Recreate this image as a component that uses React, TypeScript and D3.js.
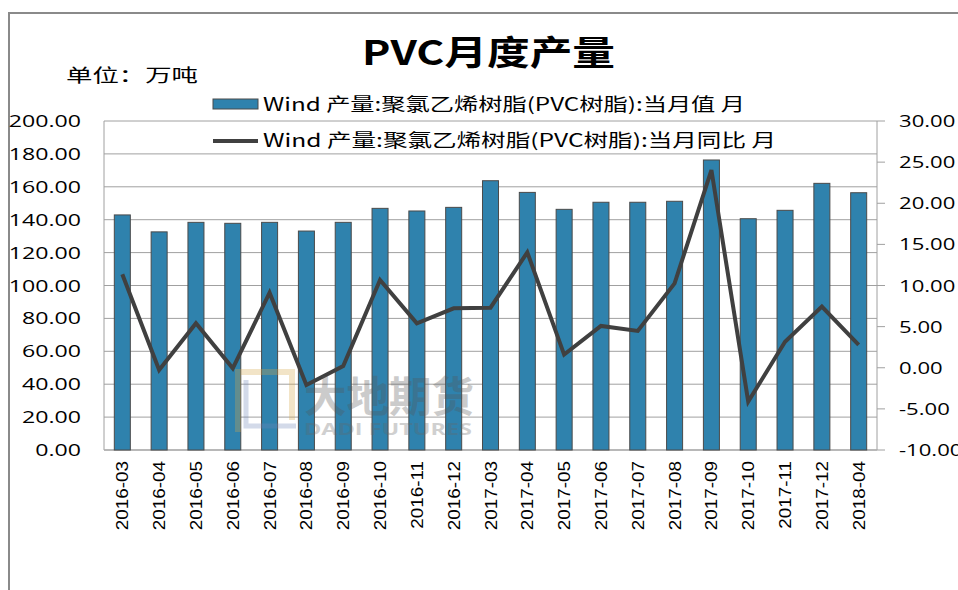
import { useEffect, useRef } from 'react'
import * as d3 from 'd3'

const months = [
  '2016-03', '2016-04', '2016-05', '2016-06', '2016-07', '2016-08', '2016-09',
  '2016-10', '2016-11', '2016-12', '2017-03', '2017-04', '2017-05', '2017-06',
  '2017-07', '2017-08', '2017-09', '2017-10', '2017-11', '2017-12', '2018-04',
]
const output = [
  142.9, 132.6, 138.4, 137.8, 138.4, 133.1, 138.4, 146.9, 145.3, 147.5, 163.7,
  156.6, 146.3, 150.6, 150.6, 151.2, 176.3, 140.6, 145.7, 162.1, 156.4,
]
const yoy = [
  11.36, -0.27, 5.41, -0.07, 9.13, -2.1, 0.21, 10.67, 5.41, 7.23, 7.3,
  14.03, 1.6, 5.08, 4.47, 10.26, 24.04, -4.12, 3.17, 7.43, 2.77,
]
const leftTicks = [0, 20, 40, 60, 80, 100, 120, 140, 160, 180, 200]
const rightTicks = [-10, -5, 0, 5, 10, 15, 20, 25, 30]
const legendNames = [
  'Wind 产量:聚氯乙烯树脂(PVC树脂):当月值 月',
  'Wind 产量:聚氯乙烯树脂(PVC树脂):当月同比 月',
]

const W = 958
const H = 590
const cjk = '"Noto Sans CJK SC", "Noto Sans", sans-serif'
const num = '"Open Sans", "DejaVu Sans", sans-serif'

export default function App() {
  const ref = useRef<SVGSVGElement>(null)

  useEffect(() => {
    if (!ref.current) return
    const svg = d3.select(ref.current)
    svg.selectAll('*').remove()

    const left = 104
    const right = 877
    const top = 121
    const bottom = 450

    const x = d3.scaleBand<string>().domain(months).range([left, right]).paddingInner(0.565).paddingOuter(0.28)
    const yL = d3.scaleLinear().domain([0, 200]).range([bottom, top])
    const yR = d3.scaleLinear().domain([-10, 30]).range([bottom, top])

    svg.append('rect').attr('width', W).attr('height', H).attr('fill', '#fff')

    // outer frame
    svg.append('path')
      .attr('d', `M9,${H} L9,13 L${W},13`)
      .attr('fill', 'none').attr('stroke', '#8a8a8a').attr('stroke-width', 2)

    // title
    svg.append('text').attr('x', 362).attr('y', 65)
      .attr('font-family', cjk).attr('font-size', 34).attr('font-weight', 'bold').attr('fill', '#000')
      .attr('textLength', 253).attr('lengthAdjust', 'spacingAndGlyphs')
      .text('PVC月度产量')
    svg.append('text').attr('x', 66).attr('y', 82)
      .attr('font-family', cjk).attr('font-size', 18).attr('fill', '#000')
      .attr('textLength', 132).attr('lengthAdjust', 'spacingAndGlyphs')
      .text('单位：万吨')

    // gridlines
    svg.append('g').selectAll('line').data(leftTicks).enter().append('line')
      .attr('x1', left).attr('x2', right)
      .attr('y1', d => yL(d)).attr('y2', d => yL(d))
      .attr('stroke', '#a0a0a0').attr('stroke-width', 1)

    // plot frame
    svg.append('line').attr('x1', left).attr('x2', left).attr('y1', top).attr('y2', bottom)
      .attr('stroke', '#a0a0a0')
    svg.append('line').attr('x1', right).attr('x2', right).attr('y1', top).attr('y2', bottom)
      .attr('stroke', '#a0a0a0')
    svg.append('line').attr('x1', left).attr('x2', right).attr('y1', bottom).attr('y2', bottom)
      .attr('stroke', '#b0b0b0').attr('stroke-width', 1.5)

    // right axis ticks
    svg.append('g').selectAll('line').data(rightTicks).enter().append('line')
      .attr('x1', right).attr('x2', right + 8)
      .attr('y1', d => yR(d)).attr('y2', d => yR(d))
      .attr('stroke', '#a0a0a0')

    // bars
    svg.append('g').selectAll('rect').data(months).enter().append('rect')
      .attr('x', d => x(d)!)
      .attr('width', x.bandwidth())
      .attr('y', (_, i) => yL(output[i]))
      .attr('height', (_, i) => bottom - yL(output[i]))
      .attr('fill', '#2f82ad')
      .attr('stroke', '#4a4a4a').attr('stroke-width', 1)

    // line
    const line = d3.line<number>()
      .x((_, i) => x(months[i])! + x.bandwidth() / 2)
      .y(d => yR(d))
    svg.append('path').datum(yoy).attr('d', line)
      .attr('fill', 'none').attr('stroke', '#404040').attr('stroke-width', 4)

    // watermark (faint, over the bars)
    const wm = svg.append('g').attr('opacity', 0.3)
    wm.append('path').attr('d', 'M238,432 L238,372 L292,372 L292,420')
      .attr('fill', 'none').attr('stroke', '#d7a84a').attr('stroke-width', 6)
    wm.append('path').attr('d', 'M246,380 L246,426 L296,426')
      .attr('fill', 'none').attr('stroke', '#6f86b8').attr('stroke-width', 5)
    wm.append('text').attr('x', 304).attr('y', 412).attr('font-family', cjk)
      .attr('font-size', 42).attr('font-weight', 'bold').attr('fill', '#555')
      .attr('textLength', 170).attr('lengthAdjust', 'spacingAndGlyphs').text('大地期货')
    wm.append('text').attr('x', 304).attr('y', 435).attr('font-family', num)
      .attr('font-size', 16).attr('font-weight', 'bold').attr('fill', '#666')
      .attr('textLength', 168).attr('lengthAdjust', 'spacingAndGlyphs').text('DADI FUTURES')

    // left axis labels
    svg.append('g').selectAll('text').data(leftTicks).enter().append('text')
      .attr('transform', d => `translate(81,${yL(d) + 6}) scale(1.36,1)`)
      .attr('text-anchor', 'end')
      .attr('font-family', num).attr('font-size', 17).attr('fill', '#000')
      .text(d => d.toFixed(2))

    // right axis labels
    svg.append('g').selectAll('text').data(rightTicks).enter().append('text')
      .attr('transform', d => `translate(899,${yR(d) + 6}) scale(1.3,1)`)
      .attr('font-family', num).attr('font-size', 17).attr('fill', '#000')
      .text(d => d.toFixed(2))

    // x labels
    svg.append('g').selectAll('text').data(months).enter().append('text')
      .attr('transform', d => `translate(${x(d)! + x.bandwidth() / 2 + 6},461) rotate(-90) scale(1.18,1)`)
      .attr('text-anchor', 'end')
      .attr('font-family', '"Liberation Sans", Arial, sans-serif').attr('font-size', 16).attr('fill', '#000')
      .text(d => d)

    // legend
    const lg = svg.append('g')
    lg.append('rect').attr('x', 213).attr('y', 99).attr('width', 45).attr('height', 10)
      .attr('fill', '#2f82ad').attr('stroke', '#4a4a4a')
    lg.append('text').attr('x', 263).attr('y', 111).attr('font-family', cjk).attr('font-size', 18)
      .attr('fill', '#000').attr('textLength', 482).attr('lengthAdjust', 'spacingAndGlyphs')
      .text(legendNames[0])
    lg.append('line').attr('x1', 213).attr('x2', 258).attr('y1', 141).attr('y2', 141)
      .attr('stroke', '#404040').attr('stroke-width', 4)
    lg.append('text').attr('x', 263).attr('y', 147).attr('font-family', cjk).attr('font-size', 18)
      .attr('fill', '#000').attr('textLength', 513).attr('lengthAdjust', 'spacingAndGlyphs')
      .text(legendNames[1])
  }, [])

  return (
    <svg ref={ref} width={W} height={H} style={{ position: 'absolute', left: 0, top: 0 }} />
  )
}
